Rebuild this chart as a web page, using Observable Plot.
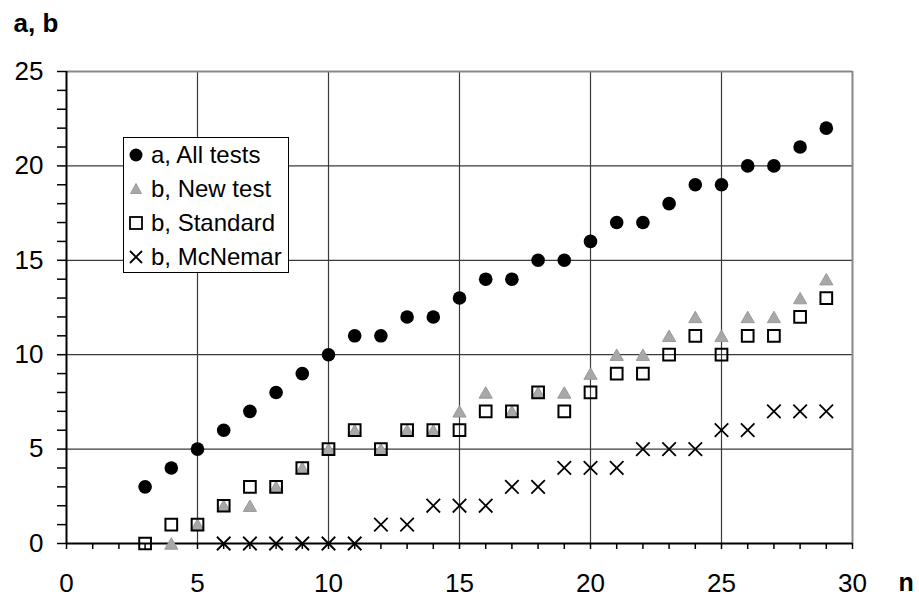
<!DOCTYPE html>
<html><head><meta charset="utf-8">
<script src="https://cdn.jsdelivr.net/npm/d3@7"></script>
<script src="https://cdn.jsdelivr.net/npm/@observablehq/plot@0.6"></script>
<style>
body{margin:0;background:#fff;font-family:"Liberation Sans",Arial,sans-serif;}
#wrap{position:relative;width:919px;height:599px;}
#legend{position:absolute;left:123px;top:137px;width:164px;height:134px;border:1px solid #000;background:#fff;box-sizing:content-box;}
.row{display:flex;align-items:center;height:34px;font-size:24px;color:#000;white-space:nowrap;}
.row svg{width:24px;height:24px;flex:none;}
.row span{margin-left:3px;}
</style></head><body><div id="wrap"></div>
<script>
const n        = [3,4,5,6,7,8,9,10,11,12,13,14,15,16,17,18,19,20,21,22,23,24,25,26,27,28,29];
const allTests = [3,4,5,6,7,8,9,10,11,11,12,12,13,14,14,15,15,16,17,17,18,19,19,20,20,21,22];
const newTest  = [null,0,1,2,2,3,4,5,6,5,6,6,7,8,7,8,8,9,10,10,11,12,11,12,12,13,14];
const standard = [0,1,1,2,3,3,4,5,6,5,6,6,6,7,7,8,7,8,9,9,10,11,10,11,11,12,13];
const mcnemar  = [null,null,null,0,0,0,0,0,0,1,1,2,2,2,3,3,4,4,4,5,5,5,6,6,7,7,7];
const xTicks = [0,5,10,15,20,25,30];
const yTicks = [0,5,10,15,20,25];
const minorTicks = d3.range(0, 31);
const legendLabels = ["a, All tests","b, New test","b, Standard","b, McNemar"];

const rows = (arr) => n.map((v,i)=>({n:v, y:arr[i]})).filter(d => d.y !== null);

const font = "Liberation Sans, Arial, sans-serif";
const chart = Plot.plot({
  width: 919, height: 599,
  marginLeft: 66, marginRight: 67, marginTop: 71, marginBottom: 56,
  style: {fontFamily: font, background: "#fff", overflow: "visible"},
  x: {domain: [0, 30]},
  y: {domain: [0, 25]},
  marks: [
    Plot.gridX({ticks: xTicks.filter(t => t > 0 && t < 30), stroke: "#3a3a3a", strokeOpacity: 1, strokeWidth: 1.2}),
    Plot.gridY({ticks: yTicks.filter(t => t > 0 && t < 25), stroke: "#3a3a3a", strokeOpacity: 1, strokeWidth: 1.2}),
    Plot.ruleY([25], {stroke: "#888", strokeWidth: 2}),
    Plot.ruleX([30], {stroke: "#888", strokeWidth: 2}),
    Plot.axisX({ticks: minorTicks, tickSize: 6, tickFormat: () => "", stroke: "#000", strokeWidth: 1.5, label: null}),
    Plot.axisY({ticks: d3.range(0, 26), tickSize: 9, tickFormat: () => "", stroke: "#000", strokeWidth: 1.5, label: null}),
    Plot.axisX({ticks: xTicks, tickSize: 0, tickPadding: 30, fontSize: 26, label: null, fill: "#000"}),
    Plot.axisY({ticks: yTicks, tickSize: 0, tickPadding: 23, fontSize: 26, label: null, fill: "#000"}),
    Plot.ruleX([0], {stroke: "#000", strokeWidth: 2}),
    Plot.ruleY([0], {stroke: "#000", strokeWidth: 2}),
    Plot.text(["a, b"], {frameAnchor: "top-left", dx: -53, dy: -58, textAnchor: "start", lineAnchor: "top", fontSize: 26, fontWeight: "bold", fill: "#000"}),
    Plot.text(["n"], {frameAnchor: "bottom-right", dx: 46, dy: 30, textAnchor: "start", lineAnchor: "top", fontSize: 25, fontWeight: "bold", fill: "#000"}),
    Plot.dot(rows(allTests), {x: "n", y: "y", r: 6.8, fill: "#000", stroke: "none", symbol: "circle"}),
    Plot.dot(rows(newTest), {x: "n", y: "y", r: 4.9, dy: 1.9, fill: "#a8a8a8", stroke: "#9a9a9a", strokeWidth: 1, symbol: "triangle"}),
    Plot.dot(rows(standard), {x: "n", y: "y", r: 6.6, fill: "none", stroke: "#000", strokeWidth: 2, symbol: "square"}),
    Plot.dot(rows(mcnemar), {x: "n", y: "y", r: 6.2, fill: "none", stroke: "#000", strokeWidth: 1.8, symbol: "times"})
  ]
});
const wrap = document.getElementById("wrap");
wrap.appendChild(chart);

// Legend
const leg = document.createElement("div");
leg.id = "legend";
const sym = [
  '<circle cx="12" cy="12" r="6.5" fill="#000"/>',
  '<path d="M12 6.5 L17.5 16.5 L6.5 16.5 Z" fill="#a8a8a8" stroke="#9a9a9a"/>',
  '<rect x="6" y="6" width="12" height="12" fill="none" stroke="#000" stroke-width="1.8"/>',
  '<path d="M6 6 L18 18 M18 6 L6 18" stroke="#000" stroke-width="1.8"/>'
];
legendLabels.forEach((t,i) => {
  const r = document.createElement("div");
  r.className = "row";
  r.innerHTML = `<svg viewBox="0 0 24 24">${sym[i]}</svg><span>${t}</span>`;
  leg.appendChild(r);
});
wrap.appendChild(leg);
</script></body></html>
